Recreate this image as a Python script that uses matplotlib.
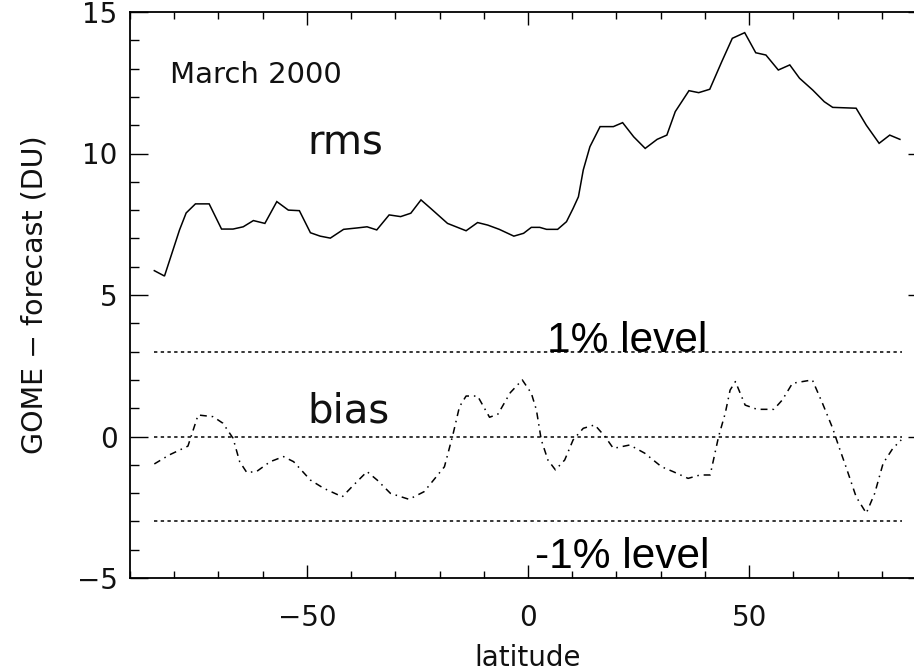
import matplotlib
matplotlib.use("Agg")
import matplotlib.pyplot as plt
from matplotlib.ticker import MultipleLocator

# Zonal-mean GOME minus forecast total ozone, March 2000
rms_lat = [-84.5, -82.2, -78.8, -77.3, -75.2, -72.1, -69.3, -66.7, -64.4, -62.1,
           -59.5, -56.8, -54.2, -51.7, -49.2, -47.0, -44.7, -41.7, -38.6, -36.4,
           -34.2, -31.4, -28.8, -26.5, -24.2, -22.0, -18.2, -14.0, -11.4, -9.1,
           -6.5, -3.2, -1.0, 0.75, 2.65, 4.2, 6.7, 8.7, 10.2, 11.4,
           12.5, 14.0, 16.3, 19.3, 21.4, 23.9, 26.5, 29.2, 31.4, 33.3,
           36.4, 38.6, 41.1, 43.8, 46.2, 49.0, 51.5, 53.8, 56.6, 59.2,
           61.4, 64.4, 67.0, 68.9, 74.2, 76.5, 79.4, 81.8, 84.1]
rms_val = [5.86, 5.67, 7.30, 7.90, 8.22, 8.22, 7.33, 7.33, 7.41, 7.63,
           7.53, 8.30, 8.00, 7.98, 7.20, 7.08, 7.01, 7.32, 7.37, 7.41,
           7.30, 7.83, 7.77, 7.89, 8.36, 8.06, 7.53, 7.27, 7.56, 7.47,
           7.32, 7.08, 7.18, 7.39, 7.39, 7.32, 7.32, 7.59, 8.06, 8.47,
           9.42, 10.24, 10.95, 10.95, 11.09, 10.59, 10.18, 10.50, 10.65, 11.48,
           12.22, 12.15, 12.27, 13.24, 14.07, 14.27, 13.56, 13.48, 12.95, 13.13,
           12.66, 12.24, 11.83, 11.63, 11.60, 11.00, 10.36, 10.65, 10.50]

bias_lat = [-84.5, -81.1, -76.9, -74.6, -71.2, -69.0, -66.7, -65.2, -63.6, -61.4,
            -58.3, -55.3, -53.0, -49.2, -46.2, -42.0, -39.4, -36.4, -34.1, -31.1,
            -26.9, -23.5, -18.9, -17.0, -15.5, -14.0, -11.4, -8.7, -6.8, -4.0,
            -1.3, 0.75, 1.9, 3.0, 4.5, 6.2, 8.3, 10.2, 12.5, 15.1,
            17.4, 19.3, 23.0, 26.4, 30.2, 32.8, 36.2, 38.9, 41.2, 43.1,
            44.6, 45.7, 46.9, 49.1, 51.8, 55.6, 57.5, 59.8, 64.3, 66.6,
            68.9, 70.3, 71.9, 74.2, 76.5, 78.4, 80.3, 82.5, 84.4]
bias_val = [-0.97, -0.65, -0.34, 0.76, 0.70, 0.47, -0.06, -0.89, -1.27, -1.24,
            -0.89, -0.71, -0.89, -1.54, -1.83, -2.13, -1.71, -1.24, -1.54, -2.01,
            -2.22, -1.95, -1.07, 0.05, 1.05, 1.43, 1.43, 0.68, 0.79, 1.55,
            2.00, 1.53, 0.94, -0.12, -0.83, -1.18, -0.83, -0.12, 0.29, 0.41,
            0.00, -0.42, -0.30, -0.59, -1.07, -1.24, -1.48, -1.36, -1.36, 0.00,
            0.82, 1.64, 1.94, 1.11, 0.96, 0.96, 1.29, 1.88, 2.00, 1.17,
            0.29, -0.36, -1.07, -2.13, -2.71, -2.01, -0.95, -0.42, -0.12]

# reference levels: +1 %, zero, -1 %
level_vals = [3.0, 0.0, -3.0]
level_span = [-84.5, 84.5]

x_ticks = [-50, 0, 50]
y_ticks = [-5, 0, 5, 10, 15]

plt.rcParams["font.family"] = ["DejaVu Sans"]

fig = plt.figure(figsize=(9.14, 6.71), dpi=100)
ax = fig.add_axes([130 / 914, 93 / 671, 796 / 914, 566 / 671])

ax.plot(rms_lat, rms_val, color="black", lw=1.1, solid_joinstyle="miter")
ax.plot(bias_lat, bias_val, color="black", lw=1.1,
        dashes=(4.5, 3.2, 1.0, 3.2))
for v in level_vals:
    ax.plot(level_span, [v, v], color="black", lw=1.1, dashes=(2.2, 2.2))

ax.set_xlim(-90, 90)
ax.set_ylim(-5, 15)
ax.set_xticks(x_ticks)
ax.set_yticks(y_ticks)
ax.xaxis.set_minor_locator(MultipleLocator(10))
ax.yaxis.set_minor_locator(MultipleLocator(1))

for s in ax.spines.values():
    s.set_linewidth(1.3)

ax.tick_params(which="both", direction="in", top=True, right=True,
               width=1.0, colors="black", labelsize=20)
ax.tick_params(axis="x", which="major", length=9.5, pad=19)
ax.tick_params(axis="x", which="minor", length=4.8)
ax.tick_params(axis="y", which="major", length=13, pad=9)
ax.tick_params(axis="y", which="minor", length=6.5)
for lab in ax.get_xticklabels() + ax.get_yticklabels():
    lab.set_color("#111111")

ax.set_xlabel("latitude", fontsize=20, color="#111111")
ax.set_ylabel("GOME \u2212 forecast (DU)", fontsize=20.5, color="#111111")
ax.xaxis.set_label_coords(0.5, -0.116)
ax.xaxis.label.set_va("top")
ax.yaxis.set_label_coords(-0.102, 0.5)

ax.text(-81, 12.5, "March 2000", fontsize=21, color="#111111",
        ha="left", va="baseline")
ax.text(-50, 9.95, "rms", fontsize=29, color="#111111",
        ha="left", va="baseline")
ax.text(-50, 0.51, "bias", fontsize=29, color="#111111",
        ha="left", va="baseline")
ax.text(4.4, 3.0, "1% level", fontsize=30.5, family="Liberation Sans",
        color="black", ha="left", va="baseline")
ax.text(1.6, -4.65, "-1% level", fontsize=30.5, family="Liberation Sans",
        color="black", ha="left", va="baseline")

fig.savefig("out.png", dpi=100)
